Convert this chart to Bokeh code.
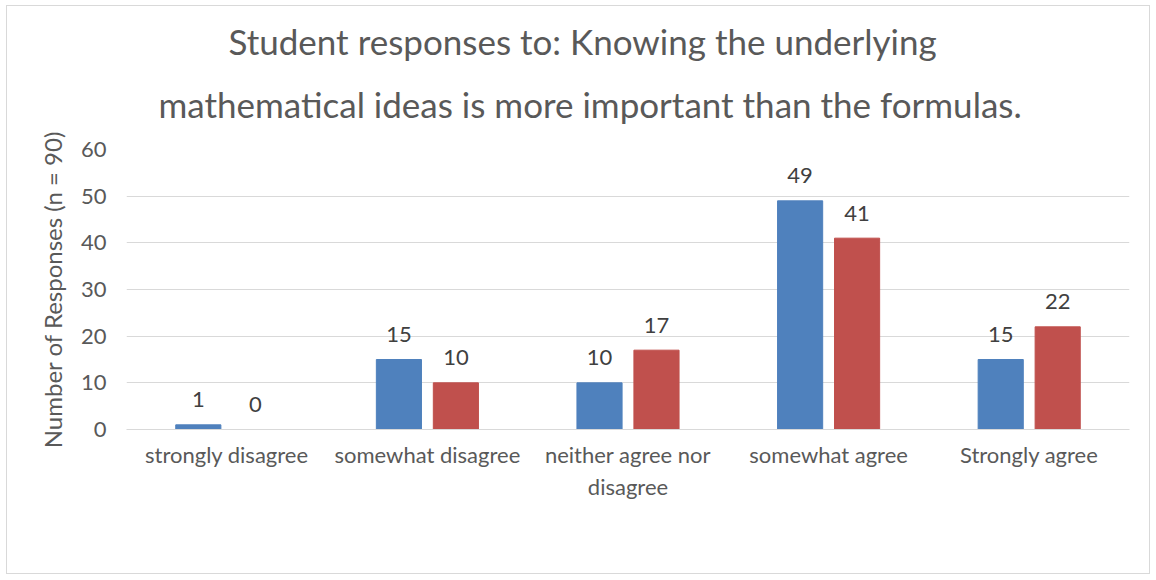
from bokeh.plotting import figure
from bokeh.models import (FactorRange, Range1d, Legend, LegendItem, ColumnDataSource,
                          SingleIntervalTicker, CategoricalAxis, Title)
from bokeh.transform import dodge
from bokeh.core.properties import value
from bokeh.embed import file_html
from bokeh.resources import INLINE

categories = ["strongly disagree", "somewhat disagree", "neither agree nor disagree", "somewhat agree", "Strongly agree"]
display_labels = ["strongly disagree", "somewhat disagree", "neither agree nor\ndisagree", "somewhat agree", "Strongly agree"]
online_homework = [1, 15, 10, 49, 15]
outside_school = [0, 10, 17, 41, 22]
series_names = ["Online Homework", "Outside of school"]
title_lines = ["Student responses to: Knowing the underlying",
               "mathematical ideas is more important than the formulas."]
y_label = "Number of Responses (n = 90)"

FONT = "Lato"
BLUE = "#4F81BD"
RED = "#C0504D"
TXT = "#595959"
GRID = "#D9D9D9"

src = ColumnDataSource(dict(cat=categories, a=online_homework, b=outside_school,
                            al=[str(v) for v in online_homework], bl=[str(v) for v in outside_school]))

p = figure(frame_width=1003, frame_height=280, x_range=FactorRange(*categories, range_padding=0),
           y_range=Range1d(0, 60), output_backend="svg", toolbar_location=None,
           min_border_left=119, min_border_right=20, min_border_top=143, min_border_bottom=144)
p.styles = {"border": "1px solid #D9D9D9"}
p.margin = (5, 0, 0, 6)

t1 = Title(text=title_lines[0], align="left", offset=102, text_font=FONT, text_font_size="35px",
           text_font_style="normal", text_color=TXT, standoff=-13)
t2 = Title(text=title_lines[1], align="left", offset=32, text_font=FONT, text_font_size="35px",
           text_font_style="normal", text_color=TXT, standoff=50)
p.add_layout(t2, "above")
p.add_layout(t1, "above")

off = 0.142
w = 0.225
r1 = p.vbar(x=dodge("cat", -off, range=p.x_range), top="a", width=w, source=src, color=BLUE)
r2 = p.vbar(x=dodge("cat", off, range=p.x_range), top="b", width=w, source=src, color=RED)

for col, lab, o in (("a", "al", -off), ("b", "bl", off)):
    p.text(x=dodge("cat", o, range=p.x_range), y=col, text=lab, source=src, text_align="center",
           text_baseline="middle", y_offset=-25, text_font=value(FONT), text_font_size="22px",
           text_color="#404040")

p.xgrid.grid_line_color = None
p.ygrid.grid_line_color = GRID
p.ygrid.grid_line_width = 1
p.yaxis.ticker = SingleIntervalTicker(interval=10)
p.outline_line_color = None
p.xaxis.visible = False

p.extra_x_ranges = {"lab": FactorRange(*display_labels, range_padding=0)}
ax1 = CategoricalAxis(x_range_name="lab")
p.add_layout(ax1, "below")

for ax in (ax1, p.yaxis[0]):
    ax.major_tick_line_color = None
    ax.minor_tick_line_color = None
    ax.major_tick_out = 0
    ax.major_label_text_font = FONT
    ax.major_label_text_font_size = "22px"
    ax.major_label_text_color = TXT
p.yaxis.axis_line_color = None
ax1.axis_line_color = GRID
p.yaxis.major_label_standoff = 16
ax1.major_label_standoff = 11

p.yaxis.axis_label = y_label
p.yaxis.axis_label_text_font = FONT
p.yaxis.axis_label_text_font_size = "24px"
p.yaxis.axis_label_text_font_style = "normal"
p.yaxis.axis_label_text_color = TXT
p.yaxis.axis_label_standoff = 11

# legend drawn below the category labels: location is in pixels from the frame's bottom-left corner
legend = Legend(items=[LegendItem(label=series_names[0], renderers=[r1]),
                       LegendItem(label=series_names[1], renderers=[r2])],
                orientation="horizontal", location=(251, -124),
                label_text_font=FONT, label_text_font_size="22px", label_text_color=TXT,
                glyph_width=14, glyph_height=14, spacing=35, border_line_color=None,
                background_fill_alpha=0, label_standoff=6, margin=0, padding=0)
p.add_layout(legend, "center")

open("out.html", "w").write(file_html(p, INLINE))
